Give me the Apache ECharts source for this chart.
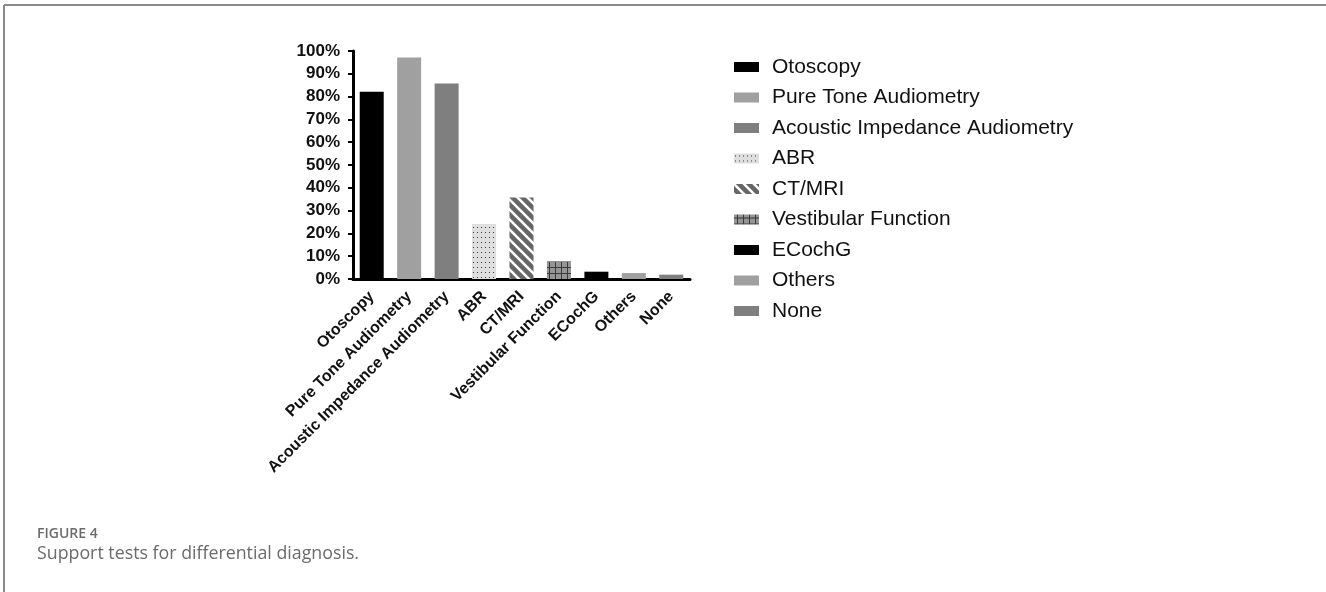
<!DOCTYPE html>
<html>
<head>
<meta charset="utf-8">
<title>Support tests for differential diagnosis</title>
<script src="https://cdn.jsdelivr.net/npm/echarts@6/dist/echarts.min.js"></script>
<style>
  html, body { margin: 0; padding: 0; background: #fff; }
  #chart { width: 1326px; height: 592px; }
</style>
</head>
<body>
<div id="chart"></div>
<script>
// Support tests used for differential diagnosis (% of respondents)
const categories = [
  'Otoscopy', 'Pure Tone Audiometry', 'Acoustic Impedance Audiometry', 'ABR',
  'CT/MRI', 'Vestibular Function', 'ECochG', 'Others', 'None'
];
const percentages = [82.1, 97.1, 85.8, 24.1, 35.8, 7.7, 3.2, 2.6, 1.9];
const yTicks = [0, 10, 20, 30, 40, 50, 60, 70, 80, 90, 100];

// Fill patterns for the hatched bars
function makePattern(kind) {
  const c = document.createElement('canvas');
  const ctx = c.getContext('2d');
  if (kind === 'dots') {
    c.width = 4; c.height = 5;
    ctx.fillStyle = '#dedede';
    ctx.fillRect(0, 0, 4, 5);
    ctx.fillStyle = '#3a3a3a';
    ctx.fillRect(1, 2, 1, 1);
  } else if (kind === 'stripes') {
    c.width = 10; c.height = 10;
    ctx.fillStyle = '#666';
    ctx.fillRect(0, 0, 10, 10);
    ctx.strokeStyle = '#fff';
    ctx.lineWidth = 2.6;
    ctx.beginPath();
    for (let k = -2; k <= 2; k++) {
      ctx.moveTo(k * 10 - 5, -5);
      ctx.lineTo(k * 10 + 15, 15);
    }
    ctx.stroke();
  } else if (kind === 'grid') {
    c.width = 6; c.height = 6;
    ctx.fillStyle = '#959595';
    ctx.fillRect(0, 0, 6, 6);
    ctx.fillStyle = '#3a3a3a';
    ctx.fillRect(0, 3, 6, 1);
    ctx.fillRect(3, 0, 1, 6);
  }
  return { image: c, repeat: 'repeat' };
}

const fills = [
  '#000000', '#a0a0a0', '#7f7f7f', makePattern('dots'),
  makePattern('stripes'), makePattern('grid'), '#000000', '#a0a0a0', '#7f7f7f'
];

const series = categories.map((name, i) => ({
  name: name,
  type: 'bar',
  barWidth: 24,
  barGap: '-100%',
  itemStyle: { color: fills[i] },
  data: categories.map((_, j) => (j === i ? percentages[i] : '-'))
}));

const chart = echarts.init(document.getElementById('chart'), null, { renderer: 'canvas' });

const axisFont = {
  fontFamily: 'Liberation Sans, Arial, sans-serif',
  fontWeight: 'bold',
  color: '#111'
};

chart.setOption({
  animation: false,
  backgroundColor: '#ffffff',
  grid: { left: 353, right: 636, top: 51, bottom: 313, containLabel: false },
  xAxis: {
    type: 'category',
    data: categories,
    boundaryGap: true,
    axisLine: { lineStyle: { color: '#000', width: 3 } },
    axisTick: { alignWithLabel: true, length: 6, lineStyle: { color: '#000', width: 2 } },
    axisLabel: Object.assign({ rotate: 45, margin: 15, interval: 0, fontSize: 16 }, axisFont),
    splitLine: { show: false }
  },
  yAxis: {
    type: 'value',
    min: yTicks[0],
    max: yTicks[yTicks.length - 1],
    interval: 10,
    axisLine: { show: true, lineStyle: { color: '#000', width: 3 } },
    axisTick: { show: true, length: 5, lineStyle: { color: '#000', width: 2 } },
    axisLabel: Object.assign({ margin: 13, fontSize: 17, formatter: '{value}%' }, axisFont),
    splitLine: { show: false }
  },
  legend: {
    orient: 'vertical',
    left: 734,
    top: 55,
    padding: 0,
    itemWidth: 25,
    itemHeight: 10,
    itemGap: 6.5,
    icon: 'rect',
    selectedMode: false,
    data: categories,
    textStyle: {
      fontFamily: 'Liberation Sans, Arial, sans-serif',
      fontSize: 21,
      lineHeight: 24,
      color: '#111',
      padding: [0, 0, 0, 8]
    }
  },
  title: {
    text: 'FIGURE 4',
    subtext: 'Support tests for differential diagnosis.',
    left: 37,
    top: 527,
    itemGap: 4,
    padding: 0,
    textStyle: {
      fontFamily: 'Open Sans, sans-serif',
      fontWeight: 600,
      fontSize: 14,
      color: '#6b6b6b'
    },
    subtextStyle: {
      fontFamily: 'Open Sans, sans-serif',
      fontSize: 17.8,
      color: '#6b6b6b'
    }
  },
  graphic: [
    { type: 'line', silent: true, shape: { x1: 4, y1: 5, x2: 1326, y2: 5 },
      style: { stroke: '#8a8a8a', lineWidth: 2 } },
    { type: 'line', silent: true, shape: { x1: 4, y1: 5, x2: 4, y2: 592 },
      style: { stroke: '#8a8a8a', lineWidth: 2 } }
  ],
  series: series
});
</script>
</body>
</html>
